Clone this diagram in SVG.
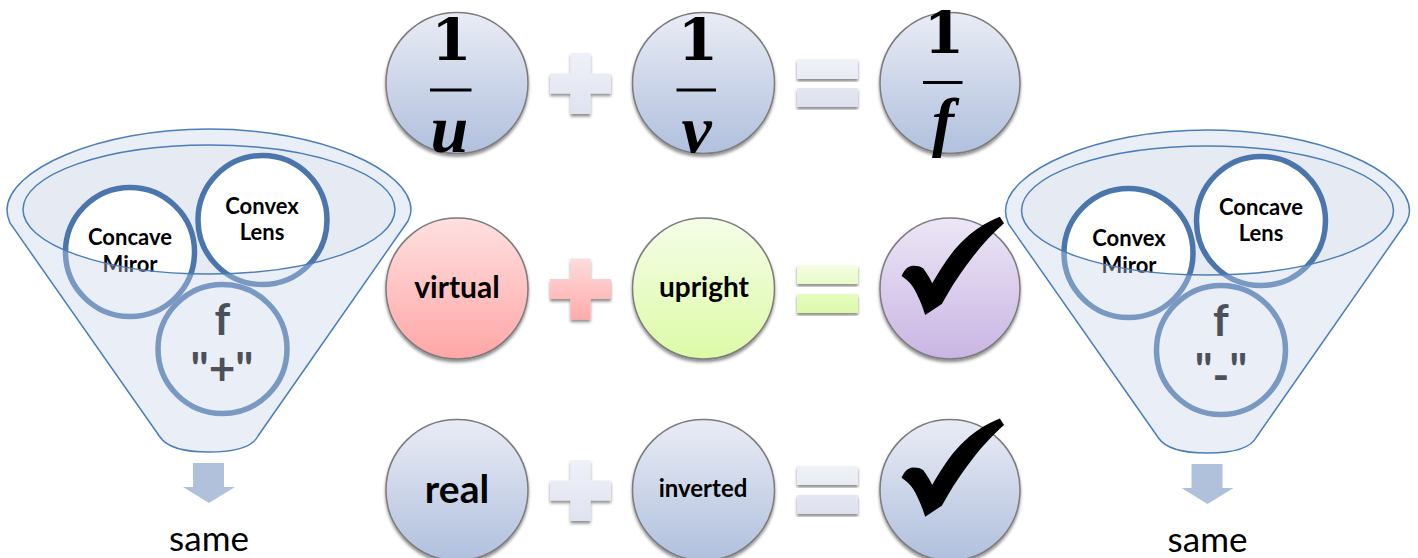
<svg xmlns="http://www.w3.org/2000/svg" xmlns:xlink="http://www.w3.org/1999/xlink" width="1418" height="558" viewBox="0 0 1418 558">
<style>
.b{font-family:Lato,"Open Sans","Liberation Sans",sans-serif;font-weight:700;text-anchor:middle;fill:#000}
.o{stroke:#7b7b7b;stroke-width:1.5;filter:url(#sh)}
.p{filter:url(#sh)}
.fl{font-size:22px}
.ring{fill:#fff;stroke:#4a76ad;stroke-width:5.5}
.edge{fill:none;stroke:#4a7ebb;stroke-width:1.5}
.veil{fill:rgb(200,211,231);fill-opacity:.38;fill-rule:evenodd}
.same{font-family:Lato,"Open Sans","Liberation Sans",sans-serif;font-size:35px;text-anchor:middle;fill:#000}
.m{font-family:"DejaVu Serif",serif;font-weight:700;font-size:58px;text-anchor:middle;fill:#000}
.mi{font-family:"Liberation Serif",serif;font-style:italic;font-size:68px}
</style>
<defs>
<filter id="sh" x="-15%" y="-15%" width="130%" height="130%"><feDropShadow dx="0" dy="2.5" stdDeviation="1.6" flood-color="#000" flood-opacity=".45"/></filter>
<linearGradient id="gB" x1="0" y1="0" x2="0" y2="1"><stop offset="0" stop-color="#e9ecf5"/><stop offset="1" stop-color="#b0c0dd"/></linearGradient>
<linearGradient id="gR" x1="0" y1="0" x2="0" y2="1"><stop offset="0" stop-color="#ffe0e0"/><stop offset="1" stop-color="#ffa6a6"/></linearGradient>
<linearGradient id="gG" x1="0" y1="0" x2="0" y2="1"><stop offset="0" stop-color="#f5fde8"/><stop offset="1" stop-color="#dcfaa6"/></linearGradient>
<linearGradient id="gP" x1="0" y1="0" x2="0" y2="1"><stop offset="0" stop-color="#ece6f6"/><stop offset="1" stop-color="#c9b5e3"/></linearGradient>
<linearGradient id="gBp" x1="0" y1="0" x2="0" y2="1"><stop offset="0" stop-color="#eff1f8"/><stop offset="1" stop-color="#dfe3f0"/></linearGradient>
<linearGradient id="gRp" x1="0" y1="0" x2="0" y2="1"><stop offset="0" stop-color="#ffdcdc"/><stop offset="1" stop-color="#ffaaaa"/></linearGradient>
<linearGradient id="gB1" x1="0" y1="0" x2="0" y2="1"><stop offset="0" stop-color="#f0f2f8"/><stop offset="1" stop-color="#e8ebf4"/></linearGradient>
<linearGradient id="gB2" x1="0" y1="0" x2="0" y2="1"><stop offset="0" stop-color="#e4e7f1"/><stop offset="1" stop-color="#dde1ee"/></linearGradient>
<linearGradient id="gG1" x1="0" y1="0" x2="0" y2="1"><stop offset="0" stop-color="#f3fde3"/><stop offset="1" stop-color="#e8fbc8"/></linearGradient>
<linearGradient id="gG2" x1="0" y1="0" x2="0" y2="1"><stop offset="0" stop-color="#e6fbc0"/><stop offset="1" stop-color="#dcfaa8"/></linearGradient>
<path id="plus" d="M-10,-30.5H10V-10H30.5V10H10V30.5H-10V10H-30.5V-10H-10Z"/>
<path id="check" d="M901.6,276C904,270 908,266 912.8,265.7C918,265.5 921.5,267 923.1,268.3C926,272 930,278 932.2,283.3C941,268 950,254 960.4,243.3C972,231 986,222 999.8,216.7L1004,223.3C993,233 982,245 972.9,256.7C964,268 955,281 948,293.3L941.8,304L925.2,315C922,305 919,298 914.8,290C911,283 906,279 901.6,276Z"/>
<path id="fBody" d="M209,129C320,129 411,170 411,210Q411,215 408,221L258,436Q250,452 209,452Q170,452 160,437L10,223Q7,216 7,210C7,170 98,129 209,129Z"/>
<path id="fVeil" d="M209,129C320,129 411,170 411,210Q411,215 408,221L258,436Q250,452 209,452Q170,452 160,437L10,223Q7,216 7,210C7,170 98,129 209,129ZM23,209.5A186,64.5 0 1 0 395,209.5A186,64.5 0 1 0 23,209.5Z"/>
<path id="fArrow" d="M193,463H224V487H235L209,503L183,487H193Z" fill="#b0c1dc"/>
</defs>

<g id="funnel-left">
<ellipse cx="209" cy="209.5" rx="186" ry="64.5" fill="#e6eaf3"/>
<circle class="ring" cx="130" cy="252" r="64.5"/>
<circle class="ring" cx="262.5" cy="220" r="64.5"/>
<circle class="ring" cx="222.5" cy="349" r="64.5"/>
<text class="b fl" x="130" y="245">Concave</text>
<text class="b fl" x="130" y="272">Miror</text>
<text class="b fl" x="262" y="214">Convex</text>
<text class="b fl" x="262" y="240">Lens</text>
<text class="b" x="222.5" y="335" font-size="44">f</text>
<text class="b" x="222" y="385" font-size="46">"+"</text>
<use xlink:href="#fVeil" href="#fVeil" class="veil"/>
<use xlink:href="#fBody" href="#fBody" class="edge"/>
<ellipse class="edge" cx="209" cy="209.5" rx="186" ry="64.5"/>
<use xlink:href="#fArrow" href="#fArrow"/>
<text class="same" x="209" y="551">same</text>
</g>

<g id="funnel-right">
<ellipse cx="1207.5" cy="210.5" rx="186" ry="64.5" fill="#e6eaf3"/>
<circle class="ring" cx="1128.5" cy="253" r="64.5"/>
<circle class="ring" cx="1261" cy="221" r="64.5"/>
<circle class="ring" cx="1221" cy="350" r="64.5"/>
<text class="b fl" x="1129" y="246">Convex</text>
<text class="b fl" x="1129" y="273">Miror</text>
<text class="b fl" x="1261" y="215">Concave</text>
<text class="b fl" x="1261" y="241">Lens</text>
<text class="b" x="1221" y="336" font-size="44">f</text>
<text class="b" x="1221" y="386" font-size="45">"<tspan dy="6">-</tspan><tspan dy="-6">"</tspan></text>
<g transform="translate(998.5,1)">
<use xlink:href="#fVeil" href="#fVeil" class="veil"/>
<use xlink:href="#fBody" href="#fBody" class="edge"/>
<ellipse class="edge" cx="209" cy="209.5" rx="186" ry="64.5"/>
<use xlink:href="#fArrow" href="#fArrow"/>
</g>
<text class="same" x="1207.5" y="552">same</text>
</g>

<g id="operators">
<use xlink:href="#plus" href="#plus" class="p" x="580.5" y="83.5" fill="url(#gBp)"/>
<rect class="p" x="797" y="59" width="61" height="20" fill="url(#gB1)"/>
<rect class="p" x="797" y="88" width="61" height="19" fill="url(#gB2)"/>
<use xlink:href="#plus" href="#plus" class="p" x="580.5" y="289" fill="url(#gRp)"/>
<rect class="p" x="797" y="265" width="61" height="19" fill="url(#gG1)"/>
<rect class="p" x="797" y="294" width="61" height="19" fill="url(#gG2)"/>
<use xlink:href="#plus" href="#plus" class="p" x="580.5" y="490.5" fill="url(#gBp)"/>
<rect class="p" x="797" y="466" width="61" height="19" fill="url(#gB1)"/>
<rect class="p" x="797" y="495" width="61" height="19" fill="url(#gB2)"/>
</g>

<g id="one-over-u">
<ellipse class="o" cx="457" cy="83" rx="71" ry="70.5" fill="url(#gB)"/>
<text class="m" x="451.5" y="60">1</text>
<rect x="430" y="88.5" width="41.5" height="3"/>
<text class="m mi" x="449.5" y="152">u</text>
</g>
<g id="one-over-v">
<ellipse class="o" cx="703.5" cy="83" rx="71" ry="70.5" fill="url(#gB)"/>
<text class="m" x="698" y="60">1</text>
<rect x="676.5" y="88.5" width="39.5" height="3"/>
<text class="m mi" x="696.5" y="152">v</text>
</g>
<g id="one-over-f">
<ellipse class="o" cx="950" cy="83" rx="70" ry="70.5" fill="url(#gB)"/>
<text class="m" x="944" y="53">1</text>
<rect x="923" y="81" width="39.5" height="3"/>
<text class="m mi" x="943" y="144" style="font-size:66px">f</text>
</g>

<g id="virtual">
<ellipse class="o" cx="457" cy="288.5" rx="71" ry="70.5" fill="url(#gR)"/>
<text class="b" x="457" y="298" font-size="30">virtual</text>
</g>
<g id="upright">
<ellipse class="o" cx="703.5" cy="288.5" rx="71" ry="70.5" fill="url(#gG)"/>
<text class="b" x="704" y="297" font-size="28">upright</text>
</g>
<g id="check-upper">
<ellipse class="o" cx="950" cy="288.5" rx="70" ry="70.5" fill="url(#gP)"/>
<use xlink:href="#check" href="#check"/>
</g>

<g id="real">
<ellipse class="o" cx="457" cy="490" rx="71" ry="70.5" fill="url(#gB)"/>
<text class="b" x="457" y="503" font-size="39">real</text>
</g>
<g id="inverted">
<ellipse class="o" cx="703.5" cy="490" rx="71" ry="70.5" fill="url(#gB)"/>
<text class="b" x="703" y="497" font-size="24">inverted</text>
</g>
<g id="check-lower">
<ellipse class="o" cx="950" cy="490" rx="70" ry="70.5" fill="url(#gB)"/>
<use xlink:href="#check" href="#check" y="201.7"/>
</g>
</svg>
